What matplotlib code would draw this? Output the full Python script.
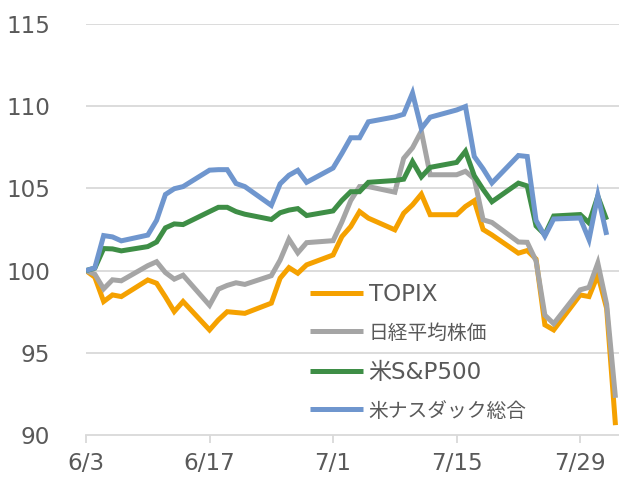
import matplotlib
matplotlib.use("Agg")
import matplotlib.pyplot as plt
import matplotlib.dates as mdates
import pandas as pd
import numpy as np

plt.rcParams['font.family'] = ['DejaVu Sans', 'Noto Sans CJK JP']

dates = ["2024-06-03", "2024-06-04", "2024-06-05", "2024-06-06", "2024-06-07",
         "2024-06-10", "2024-06-11", "2024-06-12", "2024-06-13", "2024-06-14",
         "2024-06-17", "2024-06-18", "2024-06-19", "2024-06-20", "2024-06-21",
         "2024-06-24", "2024-06-25", "2024-06-26", "2024-06-27", "2024-06-28",
         "2024-07-01", "2024-07-02", "2024-07-03", "2024-07-04", "2024-07-05",
         "2024-07-08", "2024-07-09", "2024-07-10", "2024-07-11", "2024-07-12",
         "2024-07-15", "2024-07-16", "2024-07-17", "2024-07-18", "2024-07-19",
         "2024-07-22", "2024-07-23", "2024-07-24", "2024-07-25", "2024-07-26",
         "2024-07-29", "2024-07-30", "2024-07-31", "2024-08-01", "2024-08-02"]

topix = [100, 99.6, 98.12, 98.52, 98.42, 99.43, 99.23, 98.4, 97.51, 98.12,
         96.39, 97.0, 97.5, 97.45, 97.4, 98.02, 99.54, 100.18, 99.84, 100.35,
         100.95, 102.07, 102.68, 103.59, 103.19, 102.48, 103.49, 104.0, 104.65, 103.4,
         103.4, 103.9, 104.25, 102.5, 102.17, 101.06, 101.22, 100.7, 96.7, 96.39,
         98.52, 98.42, 99.74, 97.7, 90.6]

nikkei = [100, 99.78, 98.89, 99.44, 99.38, 100.30, 100.54, 99.88, 99.48, 99.72,
          97.89, 98.87, 99.10, 99.26, 99.16, 99.69, 100.64, 101.91, 101.08, 101.70,
          101.82, 102.96, 104.26, 105.11, 105.11, 104.77, 106.83, 107.47, 108.48, 105.83,
          105.83, 106.04, 105.59, 103.09, 102.93, 101.74, 101.72, 100.59, 97.29, 96.77,
          98.83, 98.98, 100.46, 97.95, 92.26]

sp500 = [100, 100.15, 101.34, 101.32, 101.20, 101.46, 101.74, 102.60, 102.84, 102.80,
         103.59, 103.85, 103.85, 103.59, 103.43, 103.11, 103.52, 103.68, 103.77, 103.35,
         103.63, 104.27, 104.80, 104.80, 105.37, 105.48, 105.56, 106.63, 105.70, 106.28,
         106.58, 107.26, 105.77, 104.94, 104.19, 105.32, 105.15, 102.72, 102.19, 103.32,
         103.41, 102.90, 104.52, 103.09]

nasdaq = [100, 100.17, 102.13, 102.05, 101.81, 102.16, 103.06, 104.63, 104.98, 105.11,
          106.11, 106.14, 106.14, 105.30, 105.11, 103.97, 105.28, 105.80, 106.10, 105.37,
          106.24, 107.13, 108.08, 108.08, 109.05, 109.35, 109.51, 110.80, 108.64, 109.33,
          109.77, 109.98, 106.94, 106.19, 105.33, 107.00, 106.94, 103.05, 102.10, 103.14,
          103.20, 101.89, 104.58, 102.17]

labels = ["TOPIX", "日経平均株価", "米S&P500", "米ナスダック総合"]
colors = ["#F5A100", "#A5A5A5", "#3E8E46", "#6F96CE"]

xtick_dates = ["2024-06-03", "2024-06-17", "2024-07-01", "2024-07-15", "2024-07-29"]
xtick_labels = ["6/3", "6/17", "7/1", "7/15", "7/29"]
yticks = [90, 95, 100, 105, 110, 115]

d = pd.to_datetime(dates)
series = [topix, nikkei, sp500, nasdaq]

fig = plt.figure(figsize=(6.19, 4.84), dpi=100)
ax = fig.add_axes([86/619, 49/484, 1 - 86/619, (435-24)/484])

for vals, lab, col in zip(series, labels, colors):
    ax.plot(d[:len(vals)], vals, color=col, lw=3.6, label=lab,
            solid_joinstyle='miter', solid_capstyle='butt', zorder=3)

x0 = pd.Timestamp("2024-06-03")
ax.set_xlim(mdates.date2num(x0), mdates.date2num(x0) + 60.4)
ax.set_ylim(90, 115)

ax.set_yticks(yticks)
ax.set_yticklabels([str(v) for v in yticks])
ax.set_xticks(pd.to_datetime(xtick_dates))
ax.set_xticklabels(xtick_labels)

for yv in yticks[1:]:
    ax.axhline(yv, color="#D9D9D9", lw=1.3, zorder=1)

for s in ["top", "right", "left"]:
    ax.spines[s].set_visible(False)
ax.spines["bottom"].set_color("#D9D9D9")
ax.spines["bottom"].set_linewidth(1.3)

FS = 16.6
ax.tick_params(axis='y', length=0, pad=26, labelsize=FS, labelcolor="#595959")
ax.tick_params(axis='x', length=6, width=1.3, color="#D9D9D9", pad=6,
               labelsize=FS, labelcolor="#595959")

leg = ax.legend(loc='upper left', bbox_to_anchor=(0.42, 0.37), frameon=False,
                fontsize=FS, labelcolor="#595959", handlelength=2.3,
                handletextpad=0.25, labelspacing=0.75, borderaxespad=0,
                borderpad=0)
txts = leg.get_texts()
txts[1].set_fontsize(14.2)
txts[3].set_fontsize(14.2)

fig.savefig("out.png", dpi=100)
